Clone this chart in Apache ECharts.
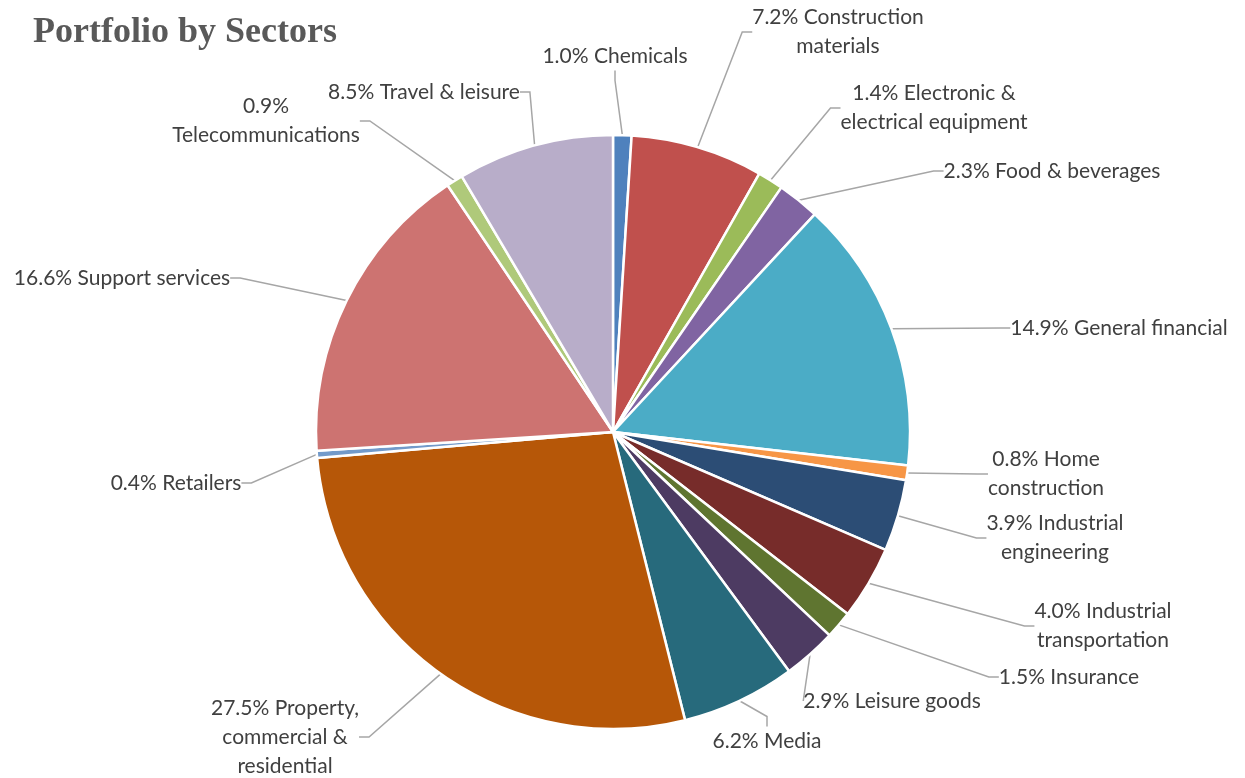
<!DOCTYPE html>
<html>
<head>
<meta charset="utf-8">
<script src="https://cdn.jsdelivr.net/npm/echarts@6/dist/echarts.min.js"></script>
<style>html,body{margin:0;padding:0;background:#fff}#c{width:1245px;height:778px}</style>
</head>
<body>
<div id="c"></div>
<script>
const sectors = ["Chemicals","Construction materials","Electronic & electrical equipment","Food & beverages","General financial","Home construction","Industrial engineering","Industrial transportation","Insurance","Leisure goods","Media","Property, commercial & residential","Retailers","Support services","Telecommunications","Travel & leisure"];
const weights = [1.0,7.2,1.4,2.3,14.9,0.8,3.9,4.0,1.5,2.9,6.2,27.5,0.4,16.6,0.9,8.5];
const labelTexts = ["1.0% Chemicals","7.2% Construction\nmaterials","1.4% Electronic &\nelectrical equipment","2.3% Food & beverages","14.9% General financial","0.8% Home\nconstruction","3.9% Industrial\nengineering","4.0% Industrial\ntransportation","1.5% Insurance","2.9% Leisure goods","6.2% Media","27.5% Property,\ncommercial &\nresidential","0.4% Retailers","16.6% Support services","0.9%\nTelecommunications","8.5% Travel & leisure"];
const colors = ["#4f81bd","#c0504d","#9bbb59","#8064a2","#4bacc6","#f79646","#2c4d75","#772c2a","#5f7530","#4d3b62","#276a7c","#b65708","#729aca","#cd7371","#afc97a","#b8adc9"];
// label block centres (layout only)
const labelPos = [[615,56],[838,32],[934,108],[1052,171],[1119,328],[1046,474],[1055,538],[1103,626],[1069,677],[892,701],[767,741],[285,737],[176,483],[122,278],[266,121],[424,92]];

const chart = echarts.init(document.getElementById('c'), null, {renderer:'canvas'});
chart.setOption({
  animation:false,
  backgroundColor:'#ffffff',
  title:{text:'Portfolio by Sectors',left:28,top:10,textStyle:{fontFamily:'Liberation Serif',fontWeight:'bold',fontSize:36,color:'#595959'}},
  color: colors,
  series:[{
    type:'pie',
    center:[613,432],
    radius:297,
    startAngle:90,
    clockwise:true,
    avoidLabelOverlap:false,
    itemStyle:{borderColor:'#ffffff',borderWidth:2.5},
    data: sectors.map((s,i)=>({name:s,value:weights[i]})),
    label:{show:true,position:'outside',formatter:p=>labelTexts[p.dataIndex],fontFamily:'Lato',fontSize:21,color:'#404040',lineHeight:29,align:'center'},
    labelLine:{show:true,length:20,length2:10,lineStyle:{color:'#a6a6a6',width:1.5}},
    labelLayout:(params)=>{const p=labelPos[params.dataIndex];return {x:p[0],y:p[1],align:'center',verticalAlign:'middle'};},
    emphasis:{disabled:true}
  }]
});
</script>
</body>
</html>
